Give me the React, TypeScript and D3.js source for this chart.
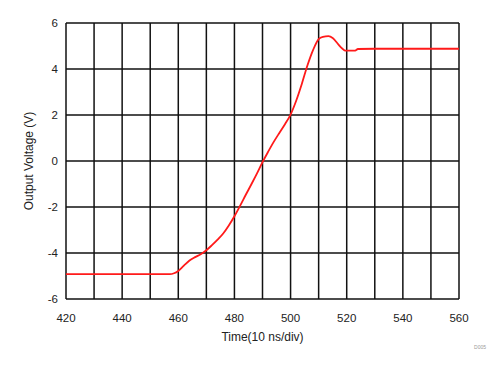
import React from 'react';
import * as d3 from 'd3';

const timeValues = [420, 457, 458.5, 460, 462, 464, 466, 468, 470, 472, 474, 476, 478, 480, 482, 484, 486, 488, 490, 492, 494, 496, 498, 500, 502, 504, 506, 508, 510, 511.5, 513.5, 515, 517, 518.5, 519.5, 523, 524, 530, 560];
const voltageValues = [-4.92, -4.92, -4.88, -4.78, -4.55, -4.33, -4.18, -4.05, -3.88, -3.66, -3.42, -3.15, -2.8, -2.4, -1.95, -1.48, -1.02, -0.55, -0.05, 0.4, 0.83, 1.22, 1.6, 2.02, 2.62, 3.35, 4.15, 4.82, 5.3, 5.4, 5.43, 5.35, 5.07, 4.88, 4.8, 4.8, 4.87, 4.88, 4.88];

const xTicks = [420, 440, 460, 480, 500, 520, 540, 560];
const xGrid = d3.range(420, 561, 10);
const yTicks = [-6, -4, -2, 0, 2, 4, 6];

const W = 500;
const H = 372;
const margin = { top: 23, right: 41, bottom: 73, left: 66 };

export default function App() {
  const x = d3.scaleLinear().domain([420, 560]).range([margin.left, W - margin.right]);
  const y = d3.scaleLinear().domain([-6, 6]).range([H - margin.bottom, margin.top]);

  const pts: [number, number][] = timeValues.map((t, i) => [t, voltageValues[i]]);
  const line = d3.line<[number, number]>()
    .curve(d3.curveMonotoneX)
    .x(d => x(d[0]))
    .y(d => y(d[1]));

  const font = '"Liberation Sans", Arial, sans-serif';

  return (
    <svg width={W} height={H} style={{ position: 'absolute', left: 0, top: 0, background: '#fff' }} fontFamily={font}>
      {xGrid.map(t => (
        <line key={'vx' + t} x1={x(t)} x2={x(t)} y1={y(-6)} y2={y(6)} stroke="#111" strokeWidth={1.5} />
      ))}
      {yTicks.map(v => (
        <line key={'hy' + v} x1={x(420)} x2={x(560)} y1={y(v)} y2={y(v)} stroke="#111" strokeWidth={1.5} />
      ))}
      <path d={line(pts) || ''} fill="none" stroke="#ff1a1a" strokeWidth={1.8} />
      {yTicks.map(v => (
        <text key={'yt' + v} x={x(420) - 8} y={y(v) + 4} textAnchor="end" fontSize={11.5} fill="#222">{v}</text>
      ))}
      {xTicks.map(t => (
        <text key={'xt' + t} x={x(t)} y={y(-6) + 23} textAnchor="middle" fontSize={11.5} fill="#222">{t}</text>
      ))}
      <text x={(x(420) + x(560)) / 2} y={y(-6) + 42} textAnchor="middle" fontSize={12} fill="#222">Time(10 ns/div)</text>
      <text transform={`translate(33,${(y(6) + y(-6)) / 2}) rotate(-90)`} textAnchor="middle" fontSize={12} fill="#222">Output Voltage (V)</text>
      <text x={486} y={349} textAnchor="end" fontSize={5} fill="#999">D005</text>
    </svg>
  );
}
